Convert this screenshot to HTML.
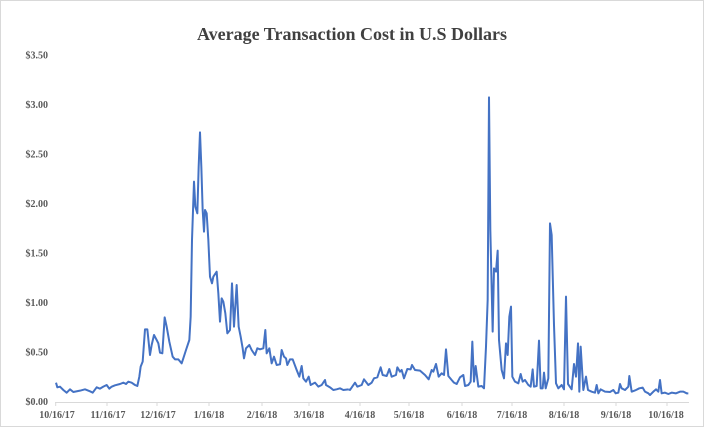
<!DOCTYPE html>
<html><head><meta charset="utf-8"><style>
html,body{margin:0;padding:0;background:#fff}
svg{display:block}
text{font-family:"Liberation Serif",serif;font-weight:bold;fill:#595959}
</style></head><body>
<svg width="705" height="428" viewBox="0 0 705 428" xmlns="http://www.w3.org/2000/svg">
<rect x="0.5" y="0.5" width="703" height="426" fill="#fff" stroke="#d9d9d9"/>
<text x="352" y="40" text-anchor="middle" style="font-size:18px;fill:#404040">Average Transaction Cost in U.S Dollars</text>
<g style="font-size:10px" text-anchor="end">
<text x="48" y="405">$0.00</text>
<text x="48" y="355.5">$0.50</text>
<text x="48" y="306">$1.00</text>
<text x="48" y="256.5">$1.50</text>
<text x="48" y="207">$2.00</text>
<text x="48" y="157.5">$2.50</text>
<text x="48" y="108">$3.00</text>
<text x="48" y="58.5">$3.50</text>
</g>
<line x1="55" y1="402.5" x2="689" y2="402.5" stroke="#d9d9d9"/>
<g stroke="#d9d9d9">
<line x1="55.7" y1="402" x2="55.7" y2="406"/><line x1="107" y1="402" x2="107" y2="406"/><line x1="157" y1="402" x2="157" y2="406"/><line x1="209" y1="402" x2="209" y2="406"/><line x1="262" y1="402" x2="262" y2="406"/><line x1="309" y1="402" x2="309" y2="406"/><line x1="360" y1="402" x2="360" y2="406"/><line x1="409" y1="402" x2="409" y2="406"/><line x1="462" y1="402" x2="462" y2="406"/><line x1="512" y1="402" x2="512" y2="406"/><line x1="564" y1="402" x2="564" y2="406"/><line x1="616" y1="402" x2="616" y2="406"/><line x1="667" y1="402" x2="667" y2="406"/>
</g>
<g style="font-size:10px" text-anchor="middle">
<text x="57" y="418">10/16/17</text><text x="108" y="418">11/16/17</text><text x="158" y="418">12/16/17</text><text x="209" y="418">1/16/18</text><text x="262" y="418">2/16/18</text><text x="309" y="418">3/16/18</text><text x="360" y="418">4/16/18</text><text x="409" y="418">5/16/18</text><text x="462" y="418">6/16/18</text><text x="512" y="418">7/16/18</text><text x="564" y="418">8/16/18</text><text x="616" y="418">9/16/18</text><text x="666" y="418">10/16/18</text>
</g>
<g fill="none" stroke="#4472C4" stroke-width="2" stroke-linejoin="round">
<polyline vector-effect="non-scaling-stroke" transform="translate(0,100) scale(0.33333)" points="168,848 172,862 180,860 190,870 200,878 210,868 220,876 240,872 255,868 270,874 278,878 290,862 300,866 310,860 320,855 328,866 335,860 345,856 360,852 370,848 378,852 385,845 395,848 405,855 412,858 418,830 422,800 428,785 435,688 442,688 450,765 455,735 462,705 470,720 475,730 480,758 487,760 494,652 500,680 508,725 518,770 525,778 535,778 545,790 550,775 558,750 568,720 572,650 576,420 582,245 586,320 592,340 596,200 600,97 604,200 608,330 612,395 615,330 620,340 625,420 630,530 636,550 640,530 650,515 655,580 660,665 665,595 670,605 676,640 682,700 690,690 696,550 702,680 710,555 716,680 722,710 728,745 732,775 738,745 748,735 755,750 765,765 772,745 780,748 790,745 796,690 800,760 808,745 815,790 822,770 830,795 840,793 845,750 852,770 858,775 862,795 870,778 878,778 890,810 898,830 905,798 910,835 918,845 926,830 932,855 945,848 955,860 965,855 975,840 978,855 990,862 1000,870 1010,868 1020,865 1030,870 1045,868"/>
<polyline vector-effect="non-scaling-stroke" transform="translate(350,80) scale(0.33333)" points="-5,928 0,930 15,908 22,920 35,915 42,898 55,915 65,908 72,895 82,892 92,862 98,885 110,888 118,867 125,890 138,885 142,862 150,875 155,870 162,895 172,867 182,868 186,855 195,870 210,872 225,885 236,898 245,870 250,875 258,852 266,890 275,880 282,885 288,808 295,888 305,900 312,908 320,912 330,892 340,885 345,918 355,915 362,905 367,785 372,905 377,858 385,920 395,918 402,925 408,800 413,660 417,52 421,450 428,755 432,565 438,575 443,512 447,780 455,870 462,895 468,790 473,825 478,710 483,680 487,890 495,905 505,910 512,882 518,905 525,900 535,915 542,920 548,868 552,920 560,918 567,782 572,925 578,925 582,878 587,925 595,895 600,430 605,465 612,735 618,910 625,925 635,915 642,928 648,650 654,912 665,928 672,852 678,890 684,790 688,935 692,800 700,930 708,890 714,930 725,935 735,938 740,915 745,940 752,928 765,935 780,936 790,930 797,940 805,938 810,912 815,925 825,930 835,920 838,888 845,935 858,930 868,925 878,923 885,935 895,940 900,945 910,935 918,928 925,935 930,900 935,940 945,938 955,942 965,938 978,940 990,935 1000,935 1010,940 1015,940"/>
</g>
</svg>
</body></html>
